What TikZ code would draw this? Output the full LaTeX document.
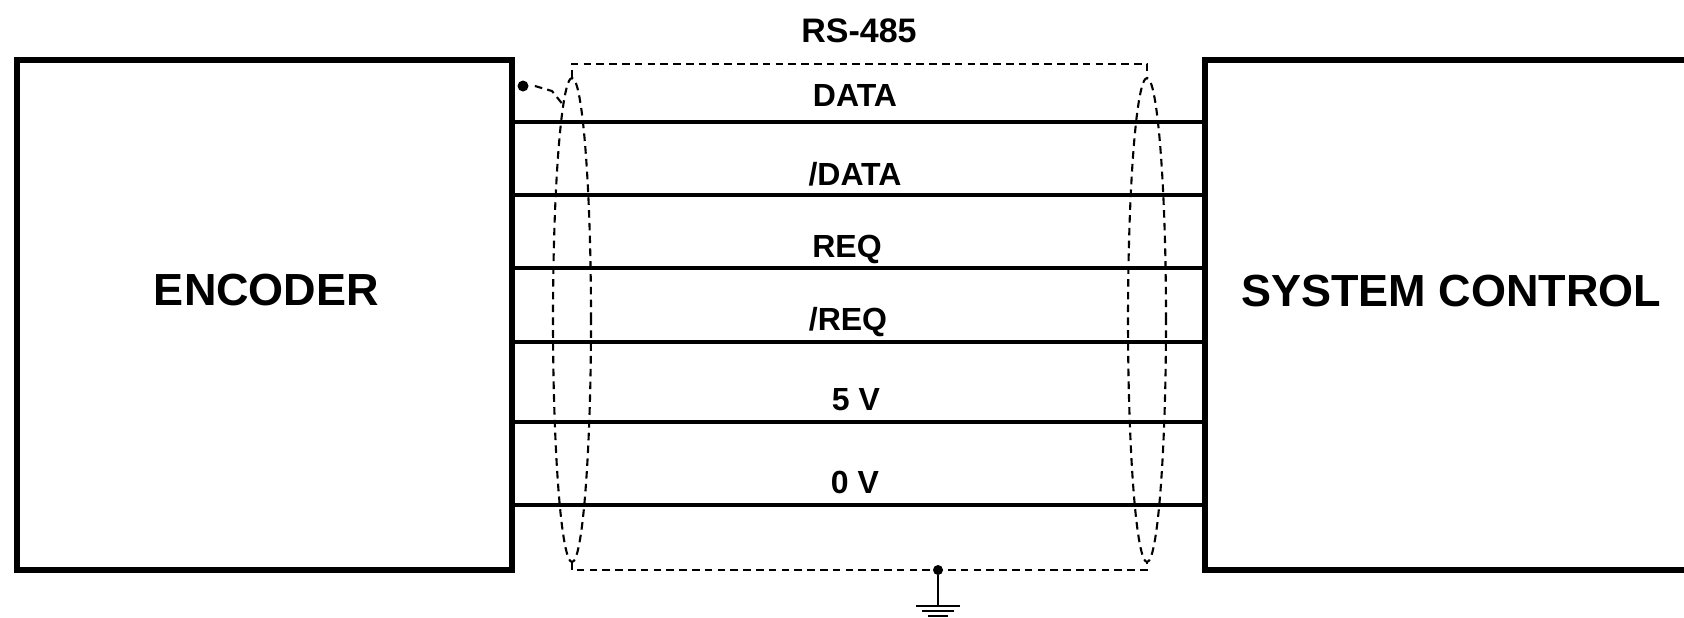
\documentclass[tikz,border=0pt]{standalone}
\usepackage{fontspec}
\setmainfont{Liberation Sans}
\newcommand{\SigFont}{\fontsize{16}{16}\selectfont\bfseries}
\newcommand{\UnitFont}{\fontsize{22.5}{22.5}\selectfont\bfseries}

\begin{document}
\begin{tikzpicture}[x=0.5pt,y=-0.5pt,
    unit/.style={draw, line width=3.25pt, inner sep=0pt, minimum height=255pt},
    wire/.style={line width=1.6pt},
    shield/.style={line width=1.05pt, dash pattern=on 3.8pt off 2.6pt},
    sig/.style={anchor=base, inner sep=0pt, font=\SigFont},
    title/.style={anchor=base, inner sep=0pt, font=\UnitFont},
    dot/.style={circle, fill, inner sep=0pt, minimum size=5.5pt}]
  \useasboundingbox (0,0) rectangle (1684,617);
  % units
  \node[unit, minimum width=247.5pt] (enc) at (264.5,315) {};
  \node[unit, minimum width=246pt]   (sys) at (1451,315) {};
  \node[title] (encl) at (266.5,305) {ENCODER};
  \node[title] (sysl) at (1451,306) {SYSTEM CONTROL};
  \node[sig, font=\fontsize{17}{17}\selectfont\bfseries] (bus) at (859,42) {RS-485};
  % signal wires
  \foreach \txt/\xl/\yl/\yw [count=\i] in {{DATA}/855/106/122, {/DATA}/855/185/195,
      {REQ}/847/257/268, {/REQ}/848/330/342, {5 V}/856/410/422, {0 V}/855/493/505} {
    \node[sig] (s\i) at (\xl,\yl) {\txt};
    \coordinate (w\i) at (\xl,\yw);
    \draw[wire] (enc.east |- w\i) -- (sys.west |- w\i);
  }
  \draw[wire] (sys.west |- w1) -- ++(6,0);
  % cable shield
  \draw[shield] (572,78) -- (572,64) -- (1147,64) -- (1147,78);
  \draw[shield] (572,562) -- (572,570) -- (1147,570) -- (1147,562);
  \draw[shield] (572,320) ellipse [x radius=9.5pt, y radius=121pt];
  \draw[shield] (1147,320) ellipse [x radius=9.5pt, y radius=121pt];
  \node[dot] (drain) at (523,86) {};
  \draw[shield] ([xshift=3pt]drain.east) -- (552,91) -- (564,106);
  % ground
  \node[dot, minimum size=5pt] (gnd) at (938,570) {};
  \draw[line width=1pt] (gnd) -- (938,606);
  \draw[line width=1.3pt] (916,606) -- (960,606);
  \draw[line width=1.3pt] (922,611) -- (954,611);
  \draw[line width=1.3pt] (928,616) -- (948,616);
\end{tikzpicture}
\end{document}
